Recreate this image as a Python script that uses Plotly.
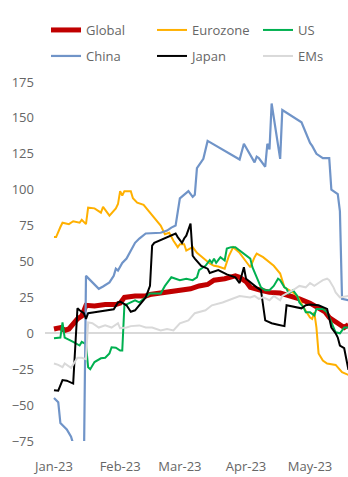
import plotly.graph_objects as go

# ---- data ----
global_dates = ["2023-01-01","2023-01-04","2023-01-06","2023-01-08","2023-01-12","2023-01-14","2023-01-16","2023-01-20",
                "2023-01-25","2023-01-30","2023-02-01","2023-02-03","2023-02-08","2023-02-13","2023-02-15","2023-02-20",
                "2023-02-24","2023-03-01","2023-03-06","2023-03-10","2023-03-14","2023-03-17","2023-03-22","2023-03-27",
                "2023-03-29","2023-04-01","2023-04-03","2023-04-08","2023-04-12","2023-04-17","2023-04-22","2023-04-26",
                "2023-05-01","2023-05-06","2023-05-08","2023-05-10","2023-05-13","2023-05-15","2023-05-17","2023-05-19"]
global_vals = [3, 4, 2, 3, 10, 12, 19.5, 19, 20, 20, 21, 25, 26, 26, 27, 28,
               29, 30, 31, 33, 34, 37, 38, 40, 39, 36, 32, 30, 28.5, 28, 26, 24,
               21, 17, 15, 11, 8, 5.5, 4, 6]

euro_dates = ["2023-01-01","2023-01-02","2023-01-04","2023-01-05","2023-01-08","2023-01-10","2023-01-13","2023-01-14",
              "2023-01-16","2023-01-17","2023-01-20","2023-01-23","2023-01-24","2023-01-26","2023-01-27","2023-01-30",
              "2023-01-31","2023-02-01","2023-02-02","2023-02-03","2023-02-06","2023-02-07","2023-02-09","2023-02-12",
              "2023-02-15","2023-02-17","2023-02-20","2023-02-22","2023-02-24","2023-02-26","2023-02-28","2023-03-01",
              "2023-03-03","2023-03-04","2023-03-07","2023-03-09","2023-03-12","2023-03-15","2023-03-17","2023-03-19",
              "2023-03-22","2023-03-24","2023-03-26","2023-03-29","2023-04-01","2023-04-03","2023-04-05","2023-04-06",
              "2023-04-09","2023-04-14","2023-04-17","2023-04-19","2023-04-23","2023-04-25","2023-04-28","2023-05-01",
              "2023-05-02","2023-05-03","2023-05-04","2023-05-05","2023-05-07","2023-05-09","2023-05-13","2023-05-16",
              "2023-05-19"]
euro_vals = [67, 67, 74, 77, 76, 78, 77, 79,
             76, 87.5, 87, 84, 88, 84, 82, 87,
             90, 99, 96, 99, 99, 94, 91, 89.5,
             84, 80, 75, 69, 70, 64.5, 60, 62,
             62, 57.6, 60, 56, 52, 48.6, 47, 46.5,
             45, 54, 60, 56, 50, 46, 53, 55.5,
             53, 47, 41.6, 32, 28.5, 26, 18, 11,
             10, 14.6, 4, -14, -19, -21, -22, -27,
             -29]

us_dates = ["2023-01-01","2023-01-04","2023-01-05","2023-01-06","2023-01-10","2023-01-13","2023-01-14","2023-01-16",
            "2023-01-17","2023-01-18","2023-01-20","2023-01-23","2023-01-25","2023-01-27","2023-01-28","2023-01-30",
            "2023-02-01","2023-02-02","2023-02-03","2023-02-06","2023-02-08","2023-02-10","2023-02-13","2023-02-15",
            "2023-02-20","2023-02-22","2023-02-24","2023-02-25","2023-02-27","2023-03-01","2023-03-04","2023-03-07",
            "2023-03-09","2023-03-10","2023-03-12","2023-03-13","2023-03-15","2023-03-16","2023-03-17","2023-03-18",
            "2023-03-20","2023-03-22","2023-03-23","2023-03-25","2023-03-27","2023-03-29","2023-04-01","2023-04-03",
            "2023-04-04","2023-04-06","2023-04-08","2023-04-10","2023-04-12","2023-04-14","2023-04-16","2023-04-17",
            "2023-04-19","2023-04-20","2023-04-21","2023-04-23","2023-04-25","2023-04-26","2023-04-28","2023-04-29",
            "2023-05-01","2023-05-03","2023-05-04","2023-05-05","2023-05-07","2023-05-09","2023-05-10","2023-05-12",
            "2023-05-13","2023-05-15","2023-05-17","2023-05-19"]
us_vals = [-3.5, -3, 7.6, -3, -6, -8.5, -6, -7.6,
           -23.6, -25, -20, -17.4, -17, -14, -9.7, -10,
           -12, -12, 19.5, 21.5, 23, 21.5, 25, 27.7,
           27.7, 33, 37, 39, 38, 37, 38, 37,
           39, 44, 46, 47, 51, 49, 52, 49,
           53, 50.7, 59, 60, 60, 57.6, 54, 52,
           46, 39, 32, 30, 30, 33, 38, 37,
           32, 31, 27.7, 30, 26, 21.5, 18, 14.6,
           14.6, 12.5, 17, 17, 17, 14.6, 11, 4,
           0.7, 0, 4, 4]

china_dates = ["2023-01-01","2023-01-03","2023-01-04","2023-01-05","2023-01-07","2023-01-09","2023-01-10","2023-01-12",
               "2023-01-15","2023-01-16","2023-01-22","2023-01-24","2023-01-27","2023-01-29","2023-01-30","2023-01-31",
               "2023-02-02","2023-02-04","2023-02-06","2023-02-08","2023-02-10","2023-02-13","2023-02-20","2023-02-23",
               "2023-02-25","2023-02-27","2023-03-01","2023-03-05","2023-03-07","2023-03-08","2023-03-09","2023-03-12",
               "2023-03-14","2023-03-29","2023-03-31","2023-04-05","2023-04-06","2023-04-07","2023-04-10","2023-04-11",
               "2023-04-12","2023-04-13","2023-04-17","2023-04-18","2023-04-27","2023-05-01","2023-05-02","2023-05-04",
               "2023-05-07","2023-05-10","2023-05-11","2023-05-14","2023-05-15","2023-05-16","2023-05-19"]
china_vals = [-45, -48, -62.5, -64, -67, -72, -77, -95,
              -95, 40, 31, 32.6, 35.4, 40, 45, 43.7,
              49, 52, 57.6, 63, 66, 69.5, 70, 71.5,
              73.6, 75, 94, 99, 95, 96.5, 115, 121.5,
              134, 121, 132, 119, 123, 122, 116, 132,
              128, 160, 121.5, 155.5, 147, 132.6, 130.5, 125,
              122, 122, 100, 97, 85, 24, 23]

japan_dates = ["2023-01-01","2023-01-03","2023-01-05","2023-01-07","2023-01-10","2023-01-12","2023-01-13","2023-01-15",
               "2023-01-16","2023-01-17","2023-01-20","2023-01-22","2023-01-29","2023-01-31","2023-02-01","2023-02-04",
               "2023-02-06","2023-02-08","2023-02-11","2023-02-13","2023-02-15","2023-02-16","2023-02-17","2023-02-23",
               "2023-02-25","2023-02-27","2023-02-28","2023-03-02","2023-03-03","2023-03-04","2023-03-06","2023-03-07",
               "2023-03-08","2023-03-11","2023-03-14","2023-03-15","2023-03-19","2023-03-23","2023-03-27","2023-03-29",
               "2023-03-31","2023-04-01","2023-04-06","2023-04-08","2023-04-10","2023-04-13","2023-04-16","2023-04-19",
               "2023-04-20","2023-04-24","2023-04-27","2023-04-29","2023-05-01","2023-05-05","2023-05-08","2023-05-09",
               "2023-05-11","2023-05-13","2023-05-14","2023-05-15","2023-05-17","2023-05-19"]
japan_vals = [-39.6, -40, -32.6, -33, -35, 17.4, 16, 14,
              10, 14, 14.6, 15, 16.7, 21.5, 22, 19.5,
              15, 16, 21, 25, 33, 61, 63, 67,
              68, 69.5, 67, 63, 66, 68, 76.4, 54,
              52, 47, 45, 42, 44, 41, 39, 35,
              46, 38, 32, 30, 9, 7, 6, 5,
              19.5, 18, 17.4, 19.5, 20, 19.5, 18, 17,
              4, 0, -3, -8.5, -10.4, -25.5]

ems_dates = ["2023-01-01","2023-01-03","2023-01-05","2023-01-06","2023-01-09","2023-01-12","2023-01-14","2023-01-16",
             "2023-01-17","2023-01-19","2023-01-22","2023-01-25","2023-01-28","2023-01-31","2023-02-01","2023-02-04",
             "2023-02-06","2023-02-10","2023-02-13","2023-02-16","2023-02-20","2023-02-23","2023-02-26","2023-03-01",
             "2023-03-05","2023-03-08","2023-03-13","2023-03-16","2023-03-21","2023-03-25","2023-03-29","2023-04-03",
             "2023-04-05","2023-04-07","2023-04-09","2023-04-12","2023-04-14","2023-04-17","2023-04-18","2023-04-21",
             "2023-04-23","2023-04-26","2023-04-29","2023-05-01","2023-05-03","2023-05-05","2023-05-07","2023-05-09",
             "2023-05-10","2023-05-12","2023-05-13","2023-05-15","2023-05-19"]
ems_vals = [-21, -22, -23.6, -21, -24, -17, -17, -18,
            7.6, 7, 4, 5.5, 4, 7, 3.5, 4,
            5, 5.5, 4, 4, 2, 3, 2, 7,
            9, 14, 16, 19.5, 21.5, 24, 26, 25,
            26, 24, 25, 23, 26, 23, 26, 28.5,
            30, 33, 32, 35, 33, 35, 37, 38,
            37, 32, 28.5, 25, 26]

# name, dates, values, colour, width, legend, legend entry width
series = [
    ("Global", global_dates, global_vals, "#c00000", 5, "legend", 61),
    ("Eurozone", euro_dates, euro_vals, "#ffb000", 2, "legend", 61),
    ("US", us_dates, us_vals, "#00b050", 2, "legend", 20),
    ("China", china_dates, china_vals, "#7094c8", 2.2, "legend2", 61),
    ("Japan", japan_dates, japan_vals, "#000000", 2, "legend2", 61),
    ("EMs", ems_dates, ems_vals, "#d9d9d9", 2, "legend2", 28),
]

FONT = "Open Sans"
TXT = "#666666"

fig = go.Figure()
for name, d, v, c, w, lg, lw in series:
    fig.add_trace(go.Scatter(x=d, y=v, mode="lines", name=name,
                             line=dict(color=c, width=w), legend=lg, legendwidth=lw))

legend_common = dict(orientation="h", entrywidthmode="pixels",
                     font=dict(family=FONT, size=13, color=TXT),
                     bgcolor="rgba(0,0,0,0)", borderwidth=0,
                     xref="container", yref="container",
                     xanchor="left", yanchor="middle", traceorder="normal")

fig.update_layout(
    width=348, height=477,
    margin=dict(l=45, r=0, t=82, b=36),
    paper_bgcolor="white", plot_bgcolor="white",
    font=dict(family=FONT, size=12, color=TXT),
    showlegend=True,
    legend=dict(**legend_common, x=46/348, y=1 - 30/477),
    legend2=dict(**legend_common, x=46/348, y=1 - 56/477),
    xaxis=dict(type="date", range=["2022-12-27 19:00", "2023-05-18 19:00"],
               dtick="M1", tick0="2023-01-01", tickformat="%b-%y",
               showgrid=False, zeroline=False, showline=False, ticks="",
               ticklabelstandoff=16,
               tickfont=dict(family=FONT, size=13, color=TXT)),
    yaxis=dict(range=[-75, 175], dtick=25, tick0=0,
               showgrid=False, zeroline=True, zerolinecolor="#d9d9d9", zerolinewidth=1.5,
               showline=False, ticks="", ticklabelstandoff=10,
               tickfont=dict(family=FONT, size=13, color=TXT)),
)

fig.write_html("out.html")
